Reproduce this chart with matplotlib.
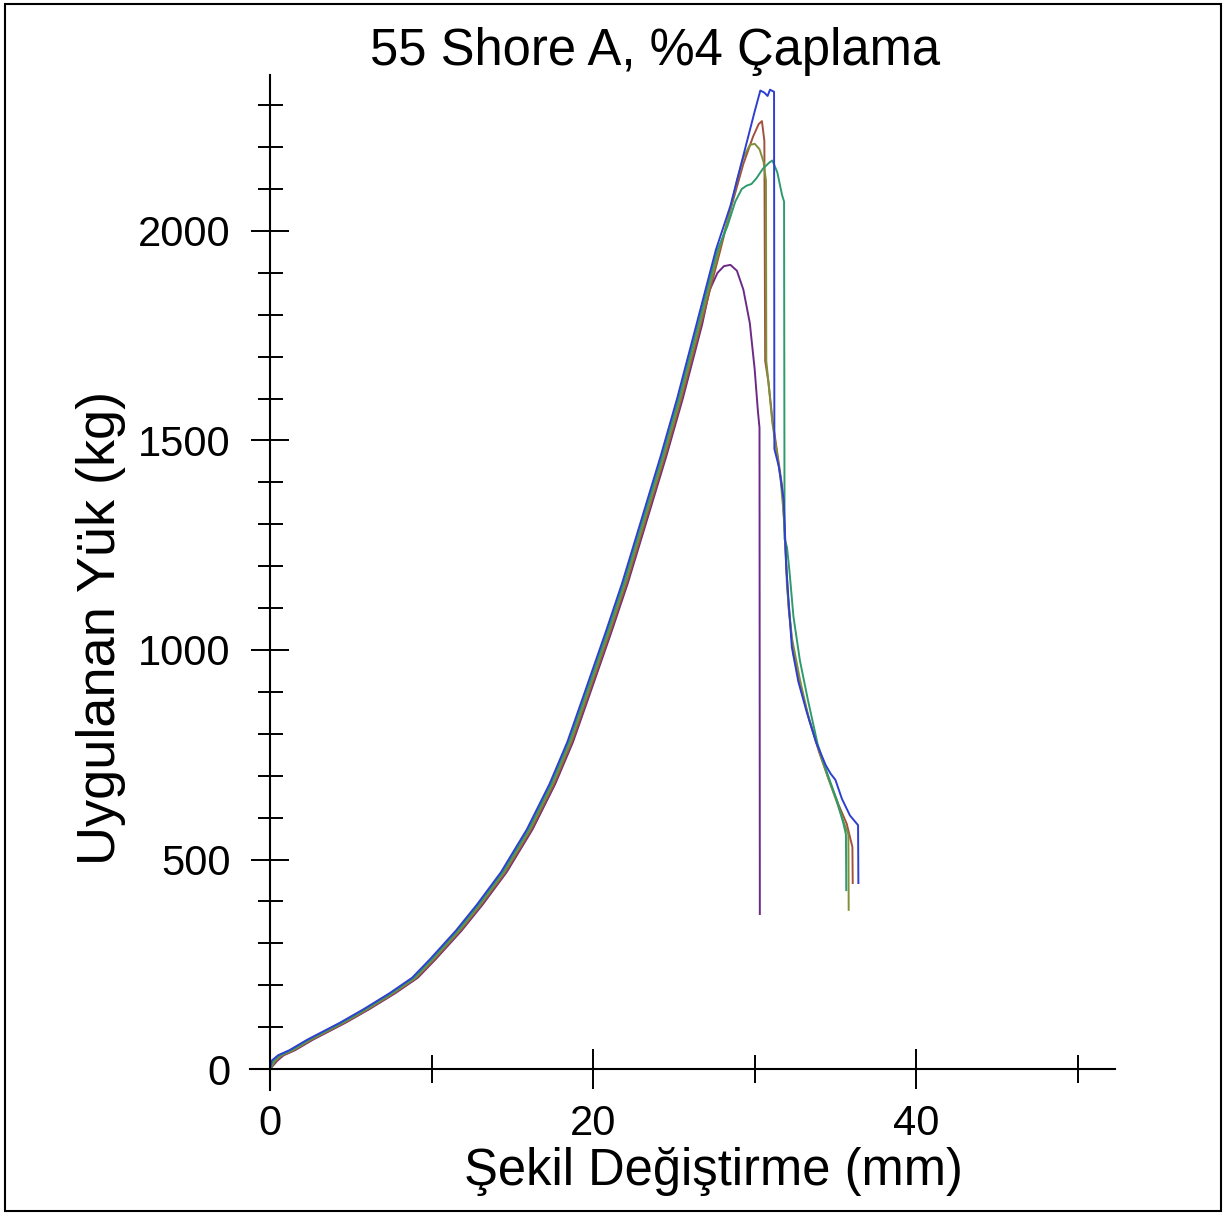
import matplotlib
matplotlib.use("Agg")
import matplotlib.pyplot as plt
from matplotlib.ticker import MultipleLocator, FixedLocator
from matplotlib.patches import Rectangle

plt.rcParams['font.family'] = ['Liberation Sans', 'DejaVu Sans']

title = "55 Shore A, %4 Çaplama"
xlabel = "Şekil Değiştirme (mm)"
ylabel = "Uygulanan Yük (kg)"

x_major = [0, 20, 40]
x_minor = [10, 30, 50]
y_major = [0, 500, 1000, 1500, 2000]

# loading branch shared by all specimens (mm, kg)
rise_x = [0, 0.3, 0.7, 1.4, 2.5, 4.5, 6.0, 7.6, 9.0, 10.1, 11.7, 13.0, 14.5,
          16.1, 17.5, 18.6, 19.6, 21.0, 22.0, 23.3, 24.4, 25.4, 26.6, 27.8]
rise_y = [0, 20, 33, 45, 70, 110, 143, 181, 218, 262, 330, 392, 470,
          572, 680, 780, 890, 1045, 1160, 1325, 1465, 1600, 1777, 1955]

# specimen branches after leaving the shared loading curve
purple_x = [27.2, 27.7, 28.1, 28.5, 28.9, 29.3, 29.7, 30.0, 30.2, 30.3, 30.32]
purple_y = [1858, 1900, 1916, 1919, 1905, 1860, 1780, 1670, 1570, 1530, 370]

blue_x = [28.5, 29.3, 30.0, 30.35, 30.6, 30.8, 30.95, 31.2, 31.22, 31.5, 31.8,
          31.95, 32.3, 32.7, 33.2, 33.8, 34.4, 34.7, 35.0, 35.4, 35.9, 36.4, 36.42]
blue_y = [2060, 2180, 2285, 2335, 2330, 2322, 2337, 2332, 1480, 1437, 1358,
          1200, 1007, 925, 855, 780, 725, 705, 690, 645, 605, 582, 444]

brown_x = [28.5, 29.3, 29.9, 30.25, 30.45, 30.6, 30.65, 30.85, 31.1, 31.4, 31.7,
           31.9, 32.1, 32.4, 32.9, 33.4, 34.0, 34.6, 35.2, 35.7, 36.05, 36.07]
brown_y = [2050, 2160, 2225, 2255, 2262, 2215, 1690, 1640, 1550, 1470, 1390,
           1250, 1100, 990, 905, 830, 755, 690, 630, 585, 530, 444]

olive_x = [28.4, 28.9, 29.3, 29.7, 30.0, 30.3, 30.55, 30.7, 30.72, 30.9, 31.1,
           31.3, 31.6, 31.85, 32.0, 32.3, 32.8, 33.3, 33.9, 34.5, 35.1, 35.5,
           35.8, 35.82]
olive_y = [2035, 2120, 2175, 2205, 2208, 2195, 2165, 2120, 1690, 1620, 1540,
           1490, 1410, 1300, 1150, 1030, 930, 845, 770, 700, 635, 590,
           560, 380]

teal_x = [28.3, 28.8, 29.2, 29.5, 29.8, 30.1, 30.5, 30.9, 31.1, 31.4, 31.7,
          31.82, 31.85, 32.0, 32.15, 32.4, 32.8, 33.3, 33.9, 34.5, 35.1, 35.5,
          35.65, 35.67]
teal_y = [2010, 2070, 2100, 2108, 2112, 2125, 2148, 2163, 2168, 2140, 2085,
          2070, 1265, 1245, 1190, 1080, 975, 880, 775, 705, 640, 585,
          560, 427]

series = [
    # (branch x, branch y, last shared x, shift of loading branch, colour)
    (purple_x, purple_y, 26.6, 0.15, '#6c2a86'),
    (brown_x, brown_y, 27.8, 0.08, '#a0523c'),
    (olive_x, olive_y, 27.8, 0.00, '#7f8f3a'),
    (teal_x, teal_y, 27.8, -0.10, '#2e9a6e'),
    (blue_x, blue_y, 27.8, -0.20, '#2f3fd0'),
]

fig = plt.figure(figsize=(12.26, 12.16), dpi=100)
ax = fig.add_axes([0.2039, 0.1036, 0.7055, 0.8347])

for bx, by, cut, shift, col in series:
    xs = [x + shift for x in rise_x if x <= cut] + list(bx)
    ys = [y for x, y in zip(rise_x, rise_y) if x <= cut] + list(by)
    xs[0] = 0.0
    ax.plot(xs, ys, color=col, lw=1.4, solid_joinstyle='round')

ax.set_xlim(-1.24, 52.3)
ax.set_ylim(-50, 2372)

for side in ('top', 'right'):
    ax.spines[side].set_visible(False)
for side in ('left', 'bottom'):
    ax.spines[side].set_position(('data', 0))
    ax.spines[side].set_linewidth(1.5)

ax.xaxis.set_major_locator(FixedLocator(x_major))
ax.xaxis.set_minor_locator(FixedLocator(x_minor))
ax.yaxis.set_major_locator(FixedLocator(y_major))
ax.yaxis.set_minor_locator(MultipleLocator(100))

ax.tick_params(axis='both', which='major', direction='inout', width=1.4,
               labelsize=30)
ax.tick_params(axis='x', which='major', length=29, pad=11)
ax.tick_params(axis='y', which='major', length=27, pad=15)
ax.tick_params(axis='x', which='minor', direction='inout', length=20, width=1.4)
ax.tick_params(axis='y', which='minor', direction='inout', length=18, width=1.4)
ax.set_xticklabels([str(v) for v in x_major])
ax.set_yticklabels([str(v) for v in y_major])

fig.text(0.534, 0.9465, title, ha='center', va='baseline', fontsize=36.5)
fig.text(0.5816, 0.0255, xlabel, ha='center', va='baseline', fontsize=36.5)
fig.text(0.0938, 0.4836, ylabel, ha='center', va='baseline', fontsize=39,
         rotation=90, rotation_mode='anchor')

fig.patches.append(Rectangle((0.004, 0.004), 0.992, 0.993, transform=fig.transFigure,
                             fill=False, edgecolor='black', lw=1.5))

fig.savefig('out.png', dpi=100, facecolor='white')
